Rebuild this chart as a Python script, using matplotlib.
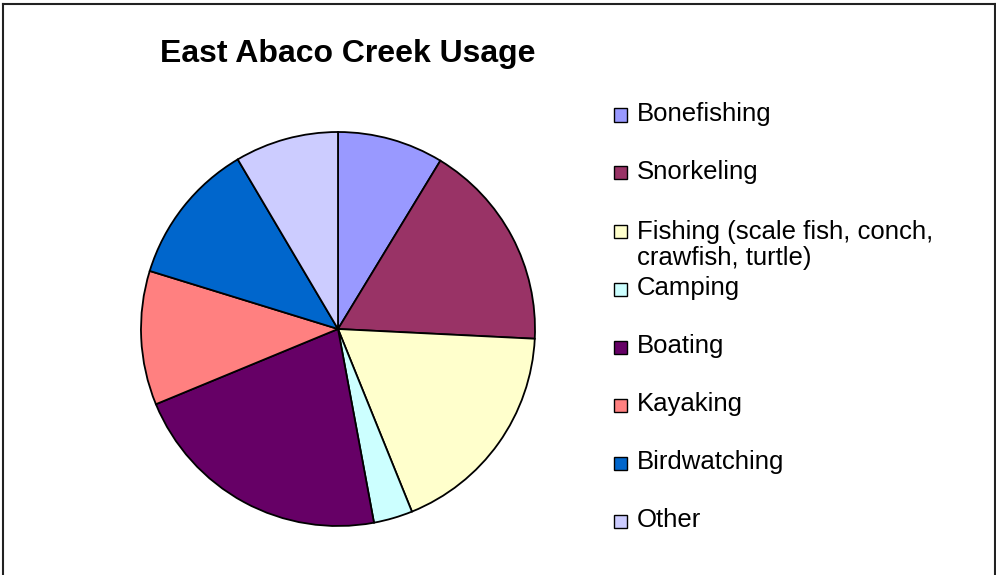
import matplotlib
matplotlib.use("Agg")
import matplotlib.pyplot as plt
from matplotlib.patches import Rectangle
from matplotlib.lines import Line2D

plt.rcParams['font.family'] = ['Liberation Sans', 'DejaVu Sans']

title = "East Abaco Creek Usage"
categories = ["Bonefishing", "Snorkeling", "Fishing (scale fish, conch,\ncrawfish, turtle)",
              "Camping", "Boating", "Kayaking", "Birdwatching", "Other"]
values = [8.7, 17.1, 18.1, 3.2, 21.7, 11.0, 11.75, 8.5]
colors = ["#9999FF", "#993366", "#FFFFCC", "#CCFFFF", "#660066", "#FF8080", "#0066CC", "#CCCCFF"]

W, H = 996, 575
fig = plt.figure(figsize=(W / 100, H / 100), dpi=100)
fig.patch.set_facecolor("white")

# pie axes: centre (338,329), radius 197 px
cx, cy, r = 338, 329, 197
ax = fig.add_axes([(cx - r) / W, (H - cy - r) / H, 2 * r / W, 2 * r / H])
ax.pie(values, colors=colors, startangle=90, counterclock=False,
       wedgeprops=dict(edgecolor="black", linewidth=1.3))
ax.set_xlim(-1, 1)
ax.set_ylim(-1, 1)
ax.set_aspect("equal")
ax.axis("off")

# title
fig.text(348 / W, 1 - 62 / H, title, ha="center", va="baseline",
         fontsize=23, fontweight="bold")

# legend (manual, Excel-like spacing)
y0, dy, line_px = 115, 58, 28
for i, (lab, col) in enumerate(zip(categories, colors)):
    yc = y0 + dy * i
    fig.patches.append(Rectangle((614 / W, 1 - (yc + 6.5) / H), 13 / W, 13 / H,
                                 transform=fig.transFigure, facecolor=col,
                                 edgecolor="black", linewidth=1.0))
    nl = lab.count("\n")
    fig.text(637 / W, 1 - (yc + 6 + nl * line_px) / H, lab, ha="left", va="baseline",
             fontsize=18.5, linespacing=1.1)

# frame (left, top, right)
lw = 1.5
fig.lines.append(Line2D([2.5 / W, 2.5 / W], [0, 1 - 4 / H], transform=fig.transFigure, color="#222222", lw=lw))
fig.lines.append(Line2D([2.5 / W, 994.5 / W], [1 - 4 / H, 1 - 4 / H], transform=fig.transFigure, color="#222222", lw=lw))
fig.lines.append(Line2D([994.5 / W, 994.5 / W], [0, 1 - 4 / H], transform=fig.transFigure, color="#222222", lw=lw))

fig.savefig("out.png", dpi=100, facecolor="white")
